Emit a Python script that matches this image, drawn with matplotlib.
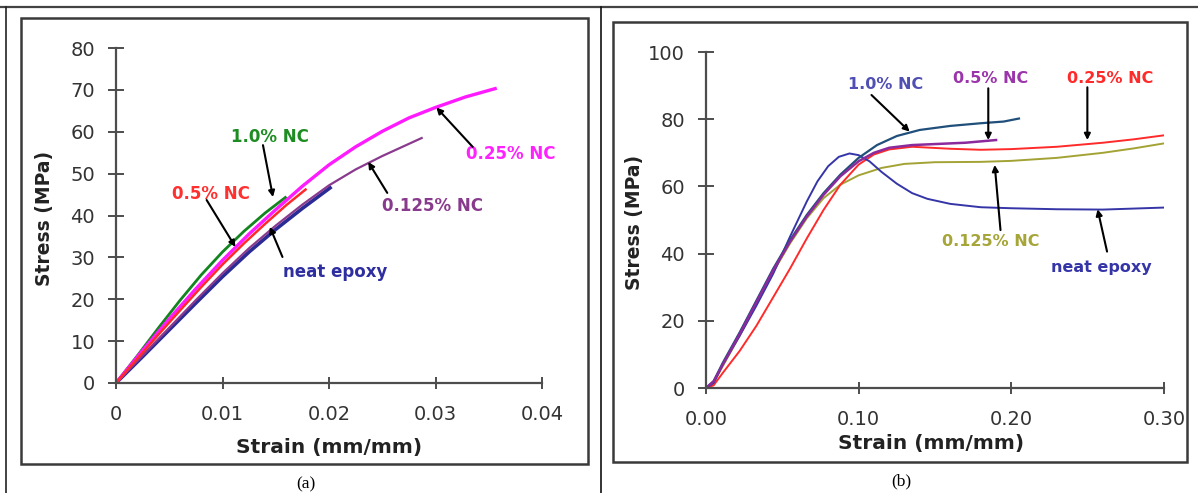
import matplotlib.pyplot as plt
from matplotlib.patches import Rectangle
from matplotlib.lines import Line2D

# ---- (a) stress-strain, low strain range ----
a_strain_10 = [0, 0.002, 0.004, 0.006, 0.008, 0.010, 0.012, 0.014, 0.0159]
a_stress_10 = [0, 6.5, 13.2, 19.7, 25.8, 31.3, 36.2, 40.6, 44.3]

a_strain_05 = [0, 0.002, 0.004, 0.006, 0.008, 0.010, 0.012, 0.014, 0.016, 0.0178]
a_stress_05 = [0, 5.8, 11.6, 17.3, 22.9, 28.3, 33.3, 38.0, 42.5, 46.2]

a_strain_025 = [0, 0.0025, 0.005, 0.0075, 0.010, 0.0125, 0.015, 0.0175, 0.020,
                0.0225, 0.025, 0.0275, 0.030, 0.0328, 0.0356]
a_stress_025 = [0, 7.8, 15.3, 22.5, 29.3, 35.6, 41.4, 47.0, 52.1,
                56.4, 60.1, 63.3, 65.8, 68.3, 70.3]

a_strain_0125 = [0, 0.0025, 0.005, 0.0075, 0.010, 0.0125, 0.015, 0.0175, 0.020,
                 0.0225, 0.025, 0.0287]
a_stress_0125 = [0, 6.6, 13.2, 19.8, 26.2, 32.2, 37.6, 42.6, 47.2, 51.0, 54.2, 58.5]

a_strain_neat = [0, 0.0025, 0.005, 0.0075, 0.010, 0.0125, 0.015, 0.0175, 0.0201]
a_stress_neat = [0, 6.3, 12.7, 19.1, 25.4, 31.3, 36.7, 41.7, 46.6]

# ---- (b) stress-strain, full range ----
b_strain_neat = [0, 0.005, 0.011, 0.022, 0.033, 0.044, 0.055, 0.066, 0.073, 0.080,
                 0.087, 0.094, 0.100, 0.107, 0.115, 0.125, 0.135, 0.145, 0.160,
                 0.180, 0.200, 0.230, 0.260, 0.280, 0.300]
b_stress_neat = [0, 1.5, 7, 15.5, 24.5, 34, 45, 55.5, 61.5, 66, 68.8, 69.8, 69.3,
                 67.5, 64.3, 60.8, 58, 56.3, 54.8, 53.8, 53.5, 53.2, 53.1, 53.4, 53.7]

b_strain_10 = [0, 0.005, 0.011, 0.022, 0.033, 0.044, 0.055, 0.066, 0.077, 0.088,
               0.100, 0.112, 0.125, 0.140, 0.160, 0.180, 0.195, 0.205]
b_stress_10 = [0, 2, 7.5, 16.5, 26, 35.5, 44, 51.5, 58, 63.5, 68.5, 72.3, 75,
               76.8, 78, 78.8, 79.3, 80.2]

b_strain_05 = [0, 0.005, 0.011, 0.022, 0.033, 0.044, 0.055, 0.066, 0.077, 0.088,
               0.100, 0.110, 0.120, 0.135, 0.150, 0.170, 0.190]
b_stress_05 = [0, 2, 7, 16, 25.5, 35, 43.5, 51, 57.5, 63, 67.5, 70, 71.5, 72.3,
               72.6, 73, 73.8]

b_strain_025 = [0, 0.005, 0.011, 0.022, 0.033, 0.044, 0.055, 0.066, 0.077, 0.088,
                0.100, 0.110, 0.120, 0.135, 0.160, 0.180, 0.200, 0.230, 0.260,
                0.280, 0.300]
b_stress_025 = [0, 0.8, 4.5, 11, 18.5, 27, 35.5, 44.5, 53, 60.5, 66.5, 69.5, 71,
                71.8, 71.2, 70.9, 71.1, 71.8, 73, 74, 75.2]

b_strain_0125 = [0, 0.005, 0.011, 0.022, 0.033, 0.044, 0.055, 0.066, 0.077, 0.088,
                 0.100, 0.115, 0.130, 0.150, 0.180, 0.200, 0.230, 0.260, 0.280,
                 0.300]
b_stress_0125 = [0, 1.5, 6.5, 15.5, 25, 34.5, 43, 50.5, 56.5, 60.5, 63.3, 65.5,
                 66.7, 67.2, 67.3, 67.6, 68.5, 70, 71.3, 72.8]

a_xticks = [0, 0.01, 0.02, 0.03, 0.04]
a_xticklabels = ["0", "0.01", "0.02", "0.03", "0.04"]
a_yticks = [0, 10, 20, 30, 40, 50, 60, 70, 80]
b_xticks = [0, 0.10, 0.20, 0.30]
b_xticklabels = ["0.00", "0.10", "0.20", "0.30"]
b_yticks = [0, 20, 40, 60, 80, 100]

plt.rcParams["font.family"] = "DejaVu Sans"

fig = plt.figure(figsize=(11.98, 4.93), dpi=100)
W, H = 1198, 493


def px(x0, y0, x1, y1):
    # pixel box -> figure fraction [left, bottom, width, height]
    return [x0 / W, 1 - y1 / H, (x1 - x0) / W, (y1 - y0) / H]


# table lines and frames around each panel
fig.add_artist(Line2D([0, 1], [1 - 7 / H, 1 - 7 / H], color="#444444", lw=1.6))
fig.add_artist(Line2D([6 / W, 6 / W], [0, 1 - 7 / H], color="#222222", lw=1.2))
fig.add_artist(Line2D([601 / W, 601 / W], [0, 1 - 7 / H], color="#111111", lw=1.2))
for box in (px(21, 18, 588, 464), px(613, 22, 1187, 462)):
    fig.add_artist(Rectangle((box[0], box[1]), box[2], box[3], fill=False,
                             edgecolor="#3a3a3a", lw=1.8, transform=fig.transFigure))

fig.text(306 / W, 1 - 484 / H, "(a)", ha="center", va="center",
         family="Liberation Serif", fontsize=12.5)
fig.text(901 / W, 1 - 481 / H, "(b)", ha="center", va="center",
         family="Liberation Serif", fontsize=12.5)


def style(ax):
    for s in ("top", "right"):
        ax.spines[s].set_visible(False)
    for s in ("left", "bottom"):
        ax.spines[s].set_color("#4d4d4d")
        ax.spines[s].set_linewidth(1.6)
    ax.tick_params(axis="y", direction="inout", length=12, width=1.4,
                   color="#4d4d4d", labelsize=14, labelcolor="#333333", pad=9)
    ax.tick_params(axis="x", direction="inout", length=9, width=1.4,
                   color="#4d4d4d", labelsize=14, labelcolor="#333333", pad=11)
    ax.patch.set_alpha(0)


arrow = dict(arrowstyle="-|>", color="black", lw=1.5, mutation_scale=9,
             shrinkA=0, shrinkB=0)

# ---------------- panel (a) ----------------
ax1 = fig.add_axes(px(116, 48, 542, 383))
ax1.plot(a_strain_neat, a_stress_neat, color="#2b2b95", lw=2.6)
ax1.plot(a_strain_0125, a_stress_0125, color="#8a3a8e", lw=1.6)
ax1.plot(a_strain_10, a_stress_10, color="#13851f", lw=2.0)
ax1.plot(a_strain_025, a_stress_025, color="#ff1aff", lw=2.4)
ax1.plot(a_strain_05, a_stress_05, color="#ff2a2a", lw=1.8)
ax1.set_xlim(0, 0.04)
ax1.set_ylim(0, 80)
ax1.set_xticks(a_xticks)
ax1.set_xticklabels(a_xticklabels)
ax1.set_yticks(a_yticks)
style(ax1)
ax1.set_xlabel("Strain (mm/mm)", fontsize=14.5, fontweight="bold", color="#222222")
ax1.set_ylabel("Stress (MPa)", fontsize=13.5, fontweight="bold", color="#222222")
ax1.xaxis.set_label_coords(0.5, -0.194)
ax1.xaxis.label.set_va("center")
ax1.yaxis.set_label_coords(-0.169, 0.4925)
ax1.yaxis.label.set_va("center")

lab = dict(fontsize=12, fontweight="bold", ha="center", va="center")
ax1.text(0.0145, 58.8, "1.0% NC", color="#1d8c22", **lab)
ax1.annotate("", xy=(0.01474, 44.4), xytext=(0.0138, 56.8), arrowprops=arrow)
ax1.text(0.00887, 45.1, "0.5% NC", color="#ff3030", **lab)
ax1.annotate("", xy=(0.01121, 32.5), xytext=(0.00851, 43.7), arrowprops=arrow)
ax1.text(0.02055, 26.6, "neat epoxy", color="#2e2ea0", **lab)
ax1.annotate("", xy=(0.01444, 37.3), xytext=(0.01563, 30.1), arrowprops=arrow)
ax1.text(0.03708, 54.7, "0.25% NC", color="#ff22ff", **lab)
ax1.annotate("", xy=(0.03008, 65.8), xytext=(0.03349, 56.4), arrowprops=arrow)
ax1.text(0.02972, 42.3, "0.125% NC", color="#883a8c", **lab)
ax1.annotate("", xy=(0.02368, 52.8), xytext=(0.02547, 45.4), arrowprops=arrow)

# ---------------- panel (b) ----------------
ax2 = fig.add_axes(px(706, 52, 1164, 388))
ax2.plot(b_strain_0125, b_stress_0125, color="#a3a335", lw=1.4)
ax2.plot(b_strain_025, b_stress_025, color="#ff2a2a", lw=1.4)
ax2.plot(b_strain_neat, b_stress_neat, color="#3535a8", lw=1.4)
ax2.plot(b_strain_10, b_stress_10, color="#1f4f7a", lw=1.6)
ax2.plot(b_strain_05, b_stress_05, color="#8a2a9c", lw=1.8)
ax2.set_xlim(0, 0.30)
ax2.set_ylim(0, 100)
ax2.set_xticks(b_xticks)
ax2.set_xticklabels(b_xticklabels)
ax2.set_yticks(b_yticks)
style(ax2)
ax2.set_xlabel("Strain (mm/mm)", fontsize=14.5, fontweight="bold", color="#222222")
ax2.set_ylabel("Stress (MPa)", fontsize=13.5, fontweight="bold", color="#222222")
ax2.xaxis.set_label_coords(0.491, -0.164)
ax2.xaxis.label.set_va("center")
ax2.yaxis.set_label_coords(-0.157, 0.494)
ax2.yaxis.label.set_va("center")

lab_b = dict(fontsize=11.5, fontweight="bold", ha="center", va="center")
ax2.text(0.1174, 90.2, "1.0% NC", color="#5050b4", **lab_b)
ax2.annotate("", xy=(0.1334, 76.3), xytext=(0.1084, 87.2), arrowprops=arrow)
ax2.text(0.1866, 92.2, "0.5% NC", color="#9a35aa", **lab_b)
ax2.annotate("", xy=(0.1849, 73.8), xytext=(0.1849, 89.2), arrowprops=arrow)
ax2.text(0.2648, 92.2, "0.25% NC", color="#ff2a2a", **lab_b)
ax2.annotate("", xy=(0.2498, 73.8), xytext=(0.2498, 89.5), arrowprops=arrow)
ax2.text(0.1866, 43.5, "0.125% NC", color="#a5a538", **lab_b)
ax2.annotate("", xy=(0.1891, 66.4), xytext=(0.1929, 47.0), arrowprops=arrow)
ax2.text(0.259, 35.9, "neat epoxy", color="#3535a8", **lab_b)
ax2.annotate("", xy=(0.2565, 53.2), xytext=(0.2627, 40.6), arrowprops=arrow)

fig.savefig("out.png", dpi=100, facecolor="white")
